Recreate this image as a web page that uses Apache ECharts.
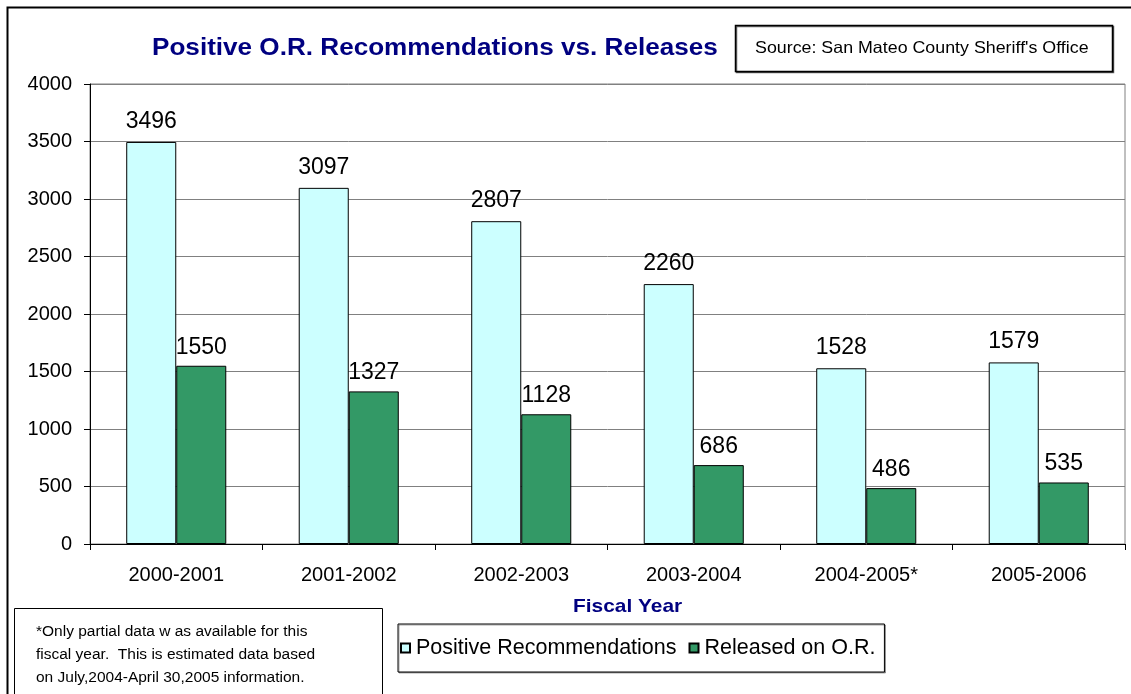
<!DOCTYPE html>
<html>
<head>
<meta charset="utf-8">
<script src="https://cdn.jsdelivr.net/npm/echarts@6/dist/echarts.min.js"></script>
<style>
html,body{margin:0;padding:0;background:#fff;}
#chart{width:1131px;height:694px;}
</style>
</head>
<body>
<div id="chart"></div>
<script>
const categories = ['2000-2001', '2001-2002', '2002-2003', '2003-2004', '2004-2005*', '2005-2006'];
const positiveRecommendations = [3496, 3097, 2807, 2260, 1528, 1579];
const releasedOnOR = [1550, 1327, 1128, 686, 486, 535];
const yTicks = [0, 500, 1000, 1500, 2000, 2500, 3000, 3500, 4000];

const FONT = 'Liberation Sans, Arial, sans-serif';
const chart = echarts.init(document.getElementById('chart'), null, {renderer: 'canvas'});

const option = {
  backgroundColor: '#fff',
  animation: false,
  legend: {
    left: 398, top: 624,
    orient: 'horizontal',
    borderColor: '#000', borderWidth: 1,
    backgroundColor: '#fff',
    shadowColor: 'rgba(0,0,0,0.35)', shadowOffsetX: 1, shadowOffsetY: 1,
    padding: [13, 9, 13, 2],
    itemWidth: 9, itemHeight: 9, itemGap: 12,
    icon: 'rect',
    textStyle: {fontFamily: FONT, fontSize: 21.5, color: '#000', padding: [0, 0, 0, 1]},
    data: ['Positive Recommendations', 'Released on O.R.']
  },
  grid: {
    left: 90, right: 6, top: 84, bottom: 150,
    show: true, borderColor: '#808080', borderWidth: 1
  },
  xAxis: {
    type: 'category',
    data: categories,
    axisLine: {lineStyle: {color: '#000', width: 1}},
    axisTick: {show: true, length: 6, lineStyle: {color: '#000'}},
    axisLabel: {fontFamily: FONT, fontSize: 20, color: '#000', margin: 21}
  },
  yAxis: {
    type: 'value',
    min: yTicks[0], max: yTicks[yTicks.length - 1], interval: 500,
    axisLine: {show: true, lineStyle: {color: '#000', width: 1}},
    axisTick: {show: true, length: 6, lineStyle: {color: '#000'}},
    axisLabel: {fontFamily: FONT, fontSize: 20, color: '#000', margin: 18, formatter: v => String(v)},
    splitLine: {lineStyle: {color: '#808080', width: 1}}
  },
  series: [
    {
      name: 'Positive Recommendations',
      type: 'bar',
      data: positiveRecommendations,
      barGap: '0%',
      barCategoryGap: '42%',
      itemStyle: {color: '#CCFFFF', borderColor: '#000', borderWidth: 1},
      label: {show: true, position: 'top', distance: 9, fontFamily: FONT, fontSize: 23, color: '#000'}
    },
    {
      name: 'Released on O.R.',
      type: 'bar',
      data: releasedOnOR,
      barGap: '0%',
      barCategoryGap: '42%',
      itemStyle: {color: '#339966', borderColor: '#000', borderWidth: 1},
      label: {show: true, position: 'top', distance: 7, fontFamily: FONT, fontSize: 23, color: '#000'}
    }
  ],
  graphic: [
    {type: 'rect', shape: {x: 7.5, y: 7.5, width: 1200, height: 800}, style: {fill: 'none', stroke: '#000', lineWidth: 2}, z: 0, silent: true},
    {type: 'text', x: 152, y: 49, scaleX: 1.135, style: {text: 'Positive O.R. Recommendations vs. Releases', font: 'bold 23px ' + FONT, fill: '#000080', verticalAlign: 'middle', textVerticalAlign: 'middle'}, z: 11},
    {type: 'rect', shape: {x: 735.5, y: 25.5, width: 377, height: 46}, style: {fill: '#fff', stroke: '#000', lineWidth: 1.5, shadowColor: 'rgba(0,0,0,0.6)', shadowOffsetX: 1, shadowOffsetY: 1}, z: 10},
    {type: 'text', x: 755, y: 48.5, scaleX: 1.08, style: {text: "Source: San Mateo County Sheriff's Office", font: '16.5px ' + FONT, fill: '#000', verticalAlign: 'middle', textVerticalAlign: 'middle'}, z: 11},
    {type: 'text', x: 573, y: 607, scaleX: 1.1, style: {text: 'Fiscal Year', font: 'bold 19px ' + FONT, fill: '#000080', verticalAlign: 'middle', textVerticalAlign: 'middle'}, z: 11},
    {type: 'rect', shape: {x: 14.5, y: 608.5, width: 368, height: 100}, style: {fill: '#fff', stroke: '#000', lineWidth: 1}, z: 10},
    {type: 'text', left: 36, top: 620, style: {text: '*Only partial data w as available for this\nfiscal year.  This is estimated data based\non July,2004-April 30,2005 information.', font: '15.5px ' + FONT, fill: '#000', lineHeight: 23}, z: 11}
  ]
};
chart.setOption(option);
</script>
</body>
</html>
